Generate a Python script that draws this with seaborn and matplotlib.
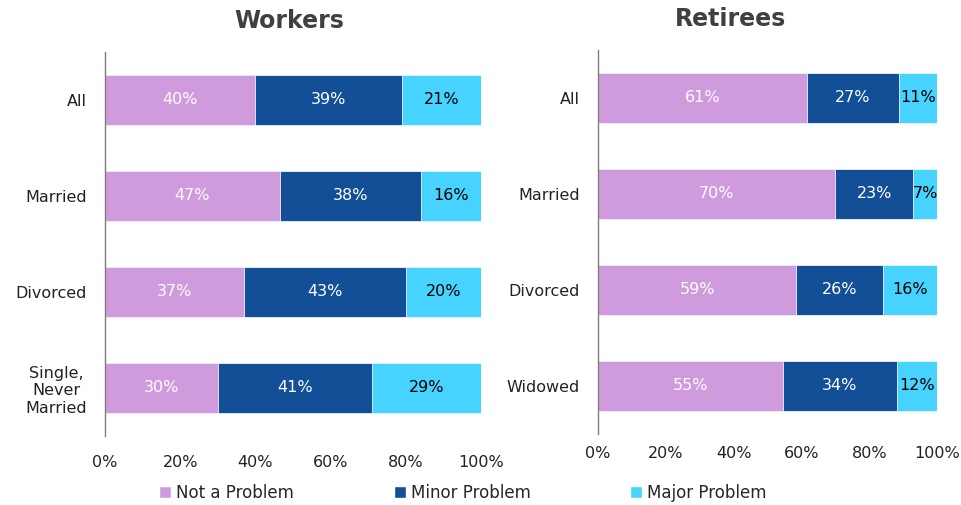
import numpy as np
import pandas as pd
import seaborn as sns
import matplotlib.pyplot as plt
from matplotlib.patches import Patch

# data
series = ['Not a Problem', 'Minor Problem', 'Major Problem']
colors = ['#CF9BDD', '#124F96', '#47D3FF']
label_colors = ['white', 'white', 'black']

workers_cats = ['All', 'Married', 'Divorced', 'Single,\nNever\nMarried']
workers_not = [40, 47, 37, 30]
workers_minor = [39, 38, 43, 41]
workers_major = [21, 16, 20, 29]

retirees_cats = ['All', 'Married', 'Divorced', 'Widowed']
retirees_not = [61, 70, 59, 55]
retirees_minor = [27, 23, 26, 34]
retirees_major = [11, 7, 16, 12]

x_ticks = [0, 20, 40, 60, 80, 100]

sns.set_theme(style='white')
plt.rcParams['font.family'] = ['DejaVu Sans']


def stacked_panel(ax, cats, values, title, title_x, xpad):
    vals = np.array(values, dtype=float).T  # rows = categories
    shares = vals / vals.sum(axis=1, keepdims=True)  # 100% stacked
    cum = shares.cumsum(axis=1)
    # draw from the longest cumulative bar down so the layers stack
    for j in reversed(range(len(series))):
        df = pd.DataFrame({'cat': cats, 'val': cum[:, j]})
        sns.barplot(data=df, x='val', y='cat', orient='h', color=colors[j],
                    saturation=1, width=0.52, ax=ax, order=cats,
                    edgecolor='#eef3fb', linewidth=0.6)
    for i in range(len(cats)):
        for j in range(len(series)):
            center = cum[i, j] - shares[i, j] / 2
            ax.text(center, i, f'{int(vals[i, j])}%', ha='center', va='center',
                    color=label_colors[j], fontsize=11.5)
    ax.set_xlim(0, 1)
    ax.set_ylim(len(cats) - 0.5, -0.5)
    ax.set_xticks([t / 100 for t in x_ticks])
    ax.set_xticklabels([f'{t}%' for t in x_ticks], fontsize=11.5, color='#222222')
    ax.tick_params(axis='x', length=0, pad=xpad)
    ax.tick_params(axis='y', length=0, pad=13, labelsize=11.5, labelcolor='#222222')
    for lbl in ax.get_yticklabels():
        lbl.set_multialignment('center')
    ax.set_xlabel('')
    ax.set_ylabel('')
    for side in ['top', 'right', 'bottom']:
        ax.spines[side].set_visible(False)
    ax.spines['left'].set_color('#7f7f7f')
    ax.spines['left'].set_linewidth(1.0)
    ax.set_title(title, fontsize=17, fontweight='bold', color='#404040',
                 x=title_x, pad=17)


fig = plt.figure(figsize=(9.61, 5.05), dpi=100)
ax1 = fig.add_axes([105 / 961, 1 - 436 / 505, 376 / 961, 384 / 505])
ax2 = fig.add_axes([598 / 961, 1 - 434 / 505, 339 / 961, 384 / 505])

stacked_panel(ax1, workers_cats, [workers_not, workers_minor, workers_major],
              'Workers', 0.49, 14)
stacked_panel(ax2, retirees_cats, [retirees_not, retirees_minor, retirees_major],
              'Retirees', 0.39, 9)

handles = [Patch(facecolor=c, label=s) for c, s in zip(colors, series)]
fig.legend(handles=handles, loc='center', bbox_to_anchor=(463 / 961, 1 - 493 / 505),
           ncol=3, frameon=False, fontsize=12, handlelength=0.7, handleheight=0.7,
           handletextpad=0.3, columnspacing=6.0)

plt.savefig('out.png', dpi=100)
